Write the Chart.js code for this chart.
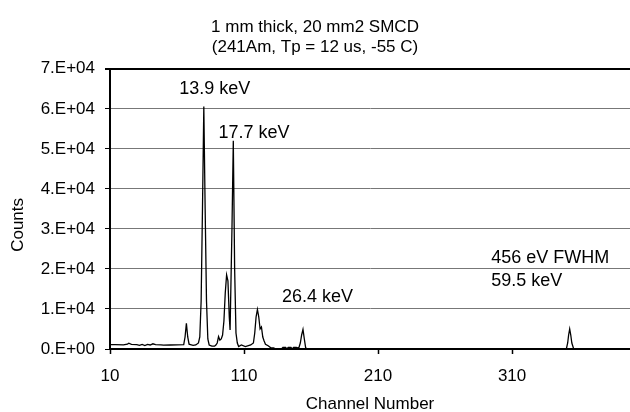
<!DOCTYPE html>
<html>
<head>
<meta charset="utf-8">
<script src="https://cdn.jsdelivr.net/npm/chart.js@4.4.0/dist/chart.umd.min.js"></script>
<style>
  html, body { margin: 0; padding: 0; background: #fff; }
</style>
</head>
<body>
<canvas id="spectrum" width="630" height="412"></canvas>
<script>
// channel / counts
const channels = [10, 14, 20, 23, 24, 26, 30, 32, 34, 36, 38, 40, 42, 44, 48, 50, 55, 60, 65,
  66, 67, 68, 69, 70, 72, 74, 76, 77, 78, 79, 80, 81, 82, 83, 84, 86, 88, 89, 90, 91, 92, 93, 94,
  95, 96, 97, 98, 99, 99.6, 101, 102, 103, 104, 105, 106, 108, 111, 115, 117, 118, 119, 120, 121,
  122, 123, 124, 125, 126, 128, 130, 132, 134, 138, 139, 141, 142, 143, 145, 146, 147, 149, 150,
  151, 152, 153, 154, 155, 156, 157, 350.5, 351.5, 352.2, 353, 353.8, 354.6, 356, 398];
const counts = [1100, 1100, 1050, 1200, 1450, 1150, 1100, 900, 1150, 850, 1150, 1000, 1300, 1100, 1050, 950, 1000, 1050, 1100,
  3000, 6400, 3000, 1200, 1100, 900, 1000, 1500, 3000, 12000, 35000, 60600, 35000, 12000, 2500, 1000, 700, 700, 1000, 1500, 3100, 2200, 2500, 3500,
  7000, 14000, 18500, 17000, 8000, 4750, 30000, 52000, 20000, 4000, 1500, 600, 1000, 600, 1000, 1500, 4000, 8000, 9900, 8000,
  5000, 5500, 3000, 2000, 1200, 800, 300, 300, 0, 0, 400, 400, 0, 400, 400, 0, 400, 400, 300,
  400, 1500, 3500, 4900, 2500, 300, 0, 0, 1500, 3500, 5000, 3500, 1500, 0, 0];

const xTicks = [10, 110, 210, 310];
const yTickLabels = ['0.E+00', '1.E+04', '2.E+04', '3.E+04', '4.E+04', '5.E+04', '6.E+04', '7.E+04'];

const peakLabels = ['13.9 keV', '17.7 keV', '26.4 keV', '456 eV FWHM', '59.5 keV'];
const peakLabelX = [61.6, 90.9, 138.3, 294.4, 294.4];
const peakLabelY = [65000, 54000, 13000, 22750, 17000];

const FONT = 'Liberation Sans, Arial, sans-serif';

const points = channels.map((c, i) => ({ x: c, y: counts[i] }));

// peak labels + the y axis title (sits a bit below the plot centre in the original)
const peakText = {
  id: 'peakText',
  afterDatasetsDraw(chart) {
    const ctx = chart.ctx;
    const xs = chart.scales.x, ys = chart.scales.y;
    ctx.save();
    ctx.font = '18px ' + FONT;
    ctx.fillStyle = '#000';
    ctx.textAlign = 'left';
    ctx.textBaseline = 'middle';
    for (let i = 0; i < peakLabels.length; i++) {
      ctx.fillText(peakLabels[i], xs.getPixelForValue(peakLabelX[i]), ys.getPixelForValue(peakLabelY[i]));
    }
    ctx.font = '17px ' + FONT;
    ctx.textAlign = 'center';
    ctx.translate(18, ys.getPixelForValue(31000));
    ctx.rotate(-Math.PI / 2);
    ctx.fillText('Counts', 0, 0);
    ctx.restore();
  }
};

new Chart(document.getElementById('spectrum').getContext('2d'), {
  type: 'line',
  data: {
    datasets: [{
      data: points,
      borderColor: '#000',
      borderWidth: 1.3,
      pointRadius: 0,
      tension: 0,
      fill: false
    }]
  },
  options: {
    responsive: false,
    animation: false,
    layout: { padding: { left: 0, right: 0, top: 0, bottom: 0 } },
    plugins: {
      legend: { display: false },
      tooltip: { enabled: false },
      title: {
        display: true,
        text: ['1 mm thick, 20 mm2 SMCD', '(241Am, Tp = 12 us, -55 C)'],
        color: '#000',
        font: { family: FONT, size: 17, weight: 'normal' },
        padding: { top: 17, bottom: 11 }
      }
    },
    scales: {
      x: {
        type: 'linear',
        min: 10,
        max: 398,
        afterBuildTicks(axis) { axis.ticks = xTicks.map(v => ({ value: v })); },
        afterFit(axis) { axis.height = 63; },
        ticks: {
          color: '#000',
          font: { family: FONT, size: 17 },
          padding: 12,
          maxRotation: 0,
          callback: v => String(v)
        },
        grid: { drawOnChartArea: false, tickLength: 5, tickColor: '#000', tickWidth: 1.5 },
        border: { color: '#000', width: 2 },
        title: {
          display: true,
          text: 'Channel Number',
          color: '#000',
          font: { family: FONT, size: 17 },
          padding: { top: 0, bottom: -3 }
        }
      },
      y: {
        min: 0,
        max: 70000,
        afterFit(axis) { axis.width = 110; },
        ticks: {
          stepSize: 10000,
          color: '#000',
          font: { family: FONT, size: 17 },
          padding: 10,
          callback: (v, i) => yTickLabels[i]
        },
        grid: {
          color: c => (c.tick && c.tick.value === 70000) ? '#000' : '#777',
          lineWidth: c => (c.tick && c.tick.value === 70000) ? 2 : 1,
          tickLength: 5,
          tickColor: '#000'
        },
        border: { color: '#000', width: 2 }
      }
    }
  },
  plugins: [peakText]
});
</script>
</body>
</html>
